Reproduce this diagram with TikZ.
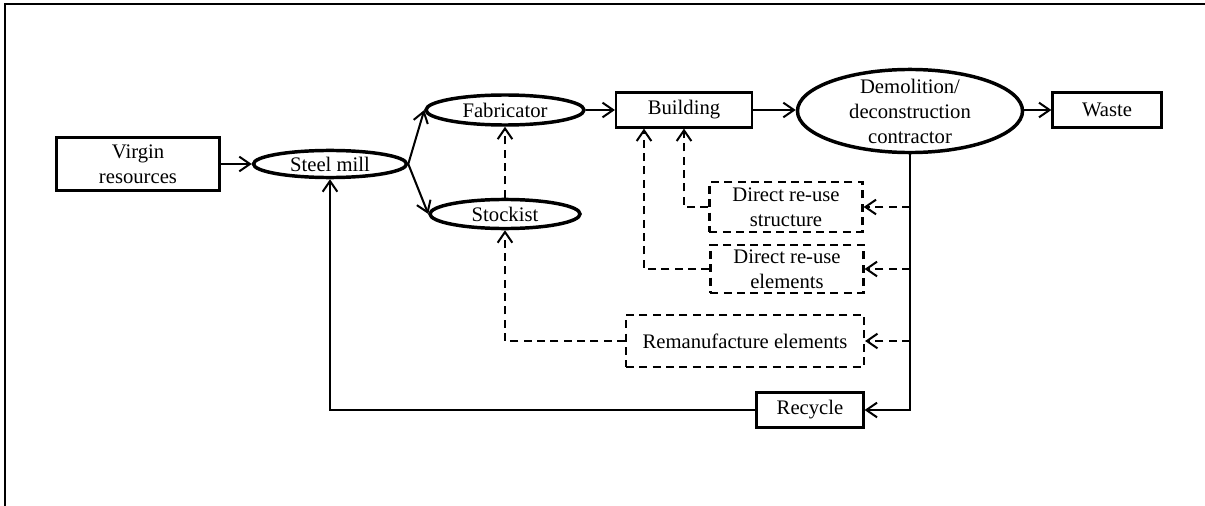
\documentclass[tikz,border=0pt]{standalone}
\usepackage{fontspec}
\setmainfont{Liberation Serif}
\usetikzlibrary{arrows.meta, shapes.geometric}

\tikzset{
  flowbox/.style={draw, line width=1.6pt, inner sep=0pt, align=center, font=\fontsize{15.5}{18.7}\selectfont},
  flowell/.style={flowbox, ellipse, line width=2.6pt},
  dashbox/.style={flowbox, dash pattern=on 6pt off 4pt},
  flow/.style={line width=1.5pt, -{Straight Barb[length=8pt, width=11pt]}},
  loopflow/.style={flow, dash pattern=on 6pt off 4pt},
}

\begin{document}
\begin{tikzpicture}[x=0.75pt, y=-0.75pt]
\useasboundingbox (0,0) rectangle (1205,506);

% Frame (only top and left edges show)
\draw[line width=1.6pt] (5,506) -- (5,4) -- (1205,4);

% Main chain
\node[flowbox, minimum width=122.3pt, minimum height=39.8pt] (virgin) at (138,164) {Virgin\\resources};
\node[flowell, minimum width=114.8pt, minimum height=20.3pt] (steel) at (330,164) {Steel mill};
\node[flowell, minimum width=118.5pt, minimum height=22.5pt] (fab) at (505,110) {Fabricator};
\node[flowell, minimum width=112.5pt, minimum height=21.8pt] (stock) at (505,214) {Stockist};
\node[flowbox, minimum width=102pt, minimum height=26.3pt] (build) at (684,110) {Building};
\node[flowell, minimum width=168.8pt, minimum height=62.3pt, inner ysep=-5pt] (demo) at (910,111) {Demolition/\\deconstruction\\contractor};
\node[flowbox, minimum width=81.8pt, minimum height=26.3pt] (waste) at (1107,110) {Waste};

% Recovery routes
\node[dashbox, minimum width=114.8pt, minimum height=37.5pt] (struct) at (786,207) {Direct re-use\\structure};
\node[dashbox, minimum width=114.8pt, minimum height=36pt] (elem) at (787,269) {Direct re-use\\elements};
\node[dashbox, minimum width=178.5pt, minimum height=39pt] (reman) at (745,341) {Remanufacture elements};
\node[flowbox, minimum width=80.3pt, minimum height=26.3pt] (recyc) at (810,410) {Recycle};

% Forward flows
\draw[flow] (virgin.east) -- (steel.west);
\draw[flow] (steel.east) -- (fab.west);
\draw[flow] (steel.east) -- (stock.west);
\draw[flow] (fab.east) -- (build.west);
\draw[flow] (build.east) -- (demo.west |- build.east);
\draw[flow] (demo.east |- waste.west) -- (waste.west);
\draw[loopflow] (stock.north) -- (fab.south);

% End of life
\draw[flow] (demo.south) |- (recyc.east);
\draw[loopflow] (demo.south |- struct.east) -- (struct.east);
\draw[loopflow] (demo.south |- elem.east) -- (elem.east);
\draw[loopflow] (demo.south |- reman.east) -- (reman.east);

% Back into the chain
\draw[loopflow] (struct.west) -| (build.south);
\draw[loopflow] (elem.west) -| ([xshift=-30pt]build.south);
\draw[loopflow] (reman.west) -| (stock.south);
\draw[flow] (recyc.west) -| (steel.south);

\end{tikzpicture}
\end{document}
